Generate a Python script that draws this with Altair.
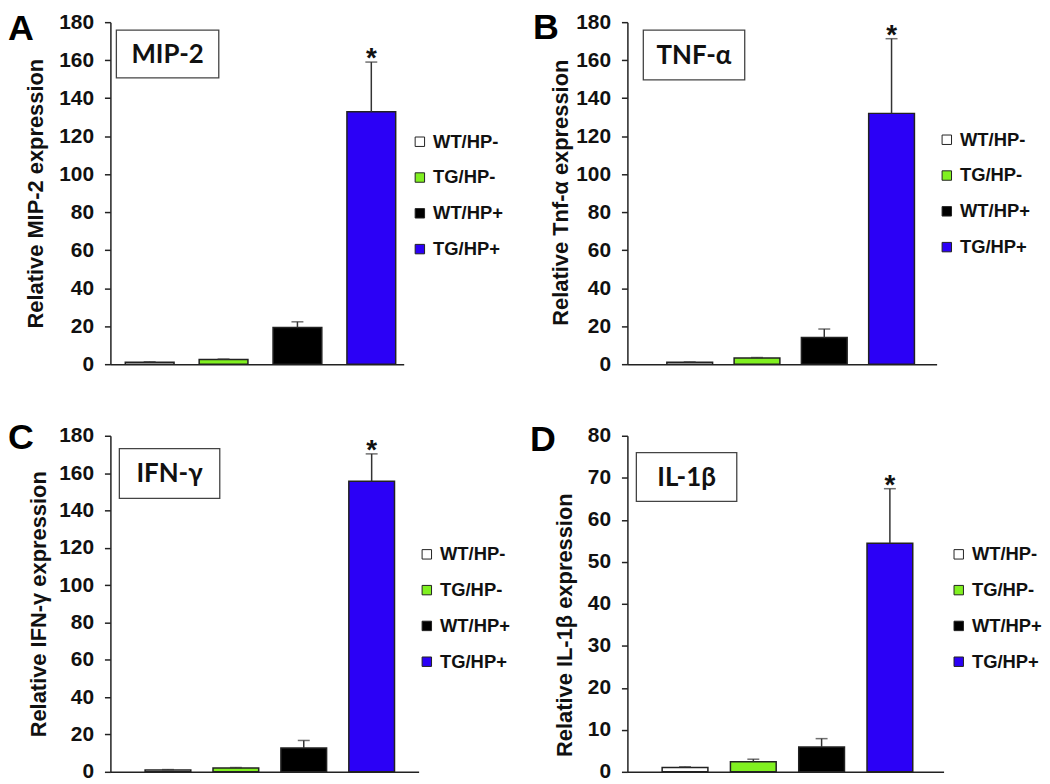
import altair as alt
import pandas as pd

groups = ["WT/HP-", "TG/HP-", "WT/HP+", "TG/HP+"]
fill_colors = ["#FFFFFF", "#80F020", "#000000", "#2B00F6"]
sig = ["", "", "", "*"]

mip2_mean = [1.0, 2.5, 19.3, 132.8]
mip2_sd = [0.3, 0.2, 3.0, 26.2]
tnf_mean = [1.0, 3.2, 14.1, 132.0]
tnf_sd = [0.2, 0.3, 4.4, 39.3]
ifng_mean = [1.0, 2.0, 12.7, 155.6]
ifng_sd = [0.2, 0.3, 4.1, 14.7]
il1b_mean = [1.0, 2.4, 5.9, 54.4]
il1b_sd = [0.2, 0.6, 2.0, 13.0]

yticks_180 = [0, 20, 40, 60, 80, 100, 120, 140, 160, 180]
yticks_80 = [0, 10, 20, 30, 40, 50, 60, 70, 80]

FONT = "Arial, Liberation Sans, sans-serif"
BOXFONT = "Lato, Open Sans, sans-serif"


def panel(letter, label, ytitle, means, sds, ymax, yticks, width, height,
          bands, title_x, title_y, legend_xy, box, letter_xy):
    df = pd.DataFrame({"group": groups, "mean": means, "sd": sds, "sig": sig})
    base = alt.Chart(df).transform_calculate(top="datum.mean + datum.sd")
    pi, po, al = bands
    xscale = alt.Scale(domain=groups, paddingInner=pi, paddingOuter=po, align=al)
    xaxis = alt.Axis(title=None, labels=False, ticks=False, domainColor="#222",
                     domainWidth=1.5)
    yscale = alt.Scale(domain=[0, ymax], nice=False)
    yaxis = alt.Axis(values=yticks, tickCount=len(yticks), title=ytitle,
                     grid=False, domainColor="#222",
                     domainWidth=1.5, tickColor="#222", tickWidth=1.5, tickSize=6,
                     labelFont=FONT, labelFontSize=21, labelFontWeight="bold",
                     labelColor="#111", labelPadding=11, labelOverlap=False,
                     titleFont=FONT, titleFontSize=22, titleFontWeight="bold",
                     titleColor="#111", titleAngle=270, titleBaseline="alphabetic",
                     titleAlign="center", titleX=title_x, titleY=title_y)
    xenc = alt.X("group:N", sort=groups, scale=xscale, axis=xaxis)
    bars = base.mark_bar(stroke="#222", strokeWidth=1.5).encode(
        x=xenc,
        y=alt.Y("mean:Q", scale=yscale, axis=yaxis),
        color=alt.Color(
            "group:N", sort=groups,
            scale=alt.Scale(domain=groups, range=fill_colors),
            legend=alt.Legend(title=None, orient="none", legendX=legend_xy[0],
                              legendY=legend_xy[1], symbolType="square",
                              symbolSize=90, symbolStrokeColor="#222",
                              symbolStrokeWidth=1, labelFont=FONT,
                              labelFontSize=18.5, labelFontWeight="bold",
                              labelColor="#111", rowPadding=17, labelOffset=4,
                              padding=0),
        ),
    )
    err = base.mark_rule(color="#333", strokeWidth=1.5).encode(
        x=xenc,
        y=alt.Y("mean:Q", scale=yscale, axis=yaxis),
        y2="top:Q",
    )
    cap = base.mark_tick(color="#333", thickness=1.5, size=12).encode(
        x=xenc,
        y=alt.Y("top:Q", scale=yscale, axis=yaxis),
    )
    star = base.mark_text(font=FONT, fontSize=28, fontWeight="bold", color="#111",
                          baseline="alphabetic", dy=5).encode(
        x=xenc,
        y=alt.Y("top:Q", scale=yscale, axis=yaxis),
        text="sig:N",
    )
    lab = alt.Chart(pd.DataFrame({"label": [label], "letter": [letter]}))
    bx0, bx1, by0, by1 = box
    rect = lab.mark_rect(fill="white", stroke="#444", strokeWidth=1.3).encode(
        x=alt.value(bx0), x2=alt.value(bx1), y=alt.value(by0), y2=alt.value(by1)
    )
    txt = lab.mark_text(font=BOXFONT, fontSize=26, fontWeight="bold",
                        color="#111", baseline="middle").encode(
        x=alt.value((bx0 + bx1) / 2), y=alt.value((by0 + by1) / 2 + 1),
        text="label:N",
    )
    let = lab.mark_text(font=FONT, fontSize=36, fontWeight="bold", color="#000",
                        align="center", baseline="alphabetic").encode(
        x=alt.value(letter_xy[0]), y=alt.value(letter_xy[1]), text="letter:N"
    )
    return alt.layer(bars, err, cap, star, rect, txt, let).properties(
        width=width, height=height
    )


pA = panel("A", "MIP-2", "Relative MIP-2 expression", mip2_mean, mip2_sd, 180,
           yticks_180, 295, 344, (0.34, 0.155, 0.65), -68, 172, (302, 111),
           (6, 109, 8, 56), (-90, 18))
pB = panel("B", "TNF-α", "Relative Tnf-α expression", tnf_mean, tnf_sd, 180,
           yticks_180, 311, 344, (0.32, 0.458, 0.64), -60, 171, (312, 109),
           (16, 118, 8, 58), (-82, 17))
pC = panel("C", "IFN-γ", "Relative IFN-γ expression", ifng_mean, ifng_sd, 180,
           yticks_180, 310, 338, (0.327, 0.433, 0.59), -65, 169, (309, 110),
           (9, 110, 13, 63), (-90, 13))
pD = panel("D", "IL-1β", "Relative IL-1β expression", il1b_mean, il1b_sd, 80,
           yticks_80, 318, 338, (0.33, 0.48, 0.53), -56, 190, (324, 110),
           (9, 110, 17, 66), (-85, 15))

chart = (
    alt.concat(pA, pB, pC, pD, columns=2, bounds="flush",
               spacing=alt.RowColnumber(row=72, column=210))
    .resolve_scale(color="independent", y="independent", x="independent")
    .resolve_legend(color="independent")
    .properties(padding=0, background="white")
    .configure_view(stroke=None)
)

chart.save("out.html", embed_options={"renderer": "svg", "actions": False})
